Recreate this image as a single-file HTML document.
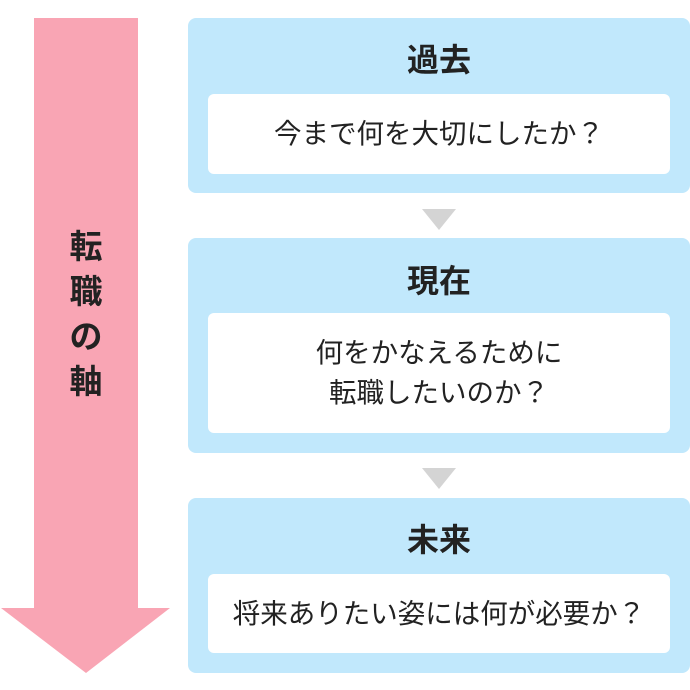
<!DOCTYPE html>
<html>
<head>
<meta charset="utf-8">
<style>
  html, body { margin:0; padding:0; background:#fff; }
  body { width:690px; height:690px; position:relative; overflow:hidden;
         font-family:"Liberation Sans","Noto Sans CJK JP",sans-serif; color:#222; }
  .box { position:absolute; left:188px; width:502px; background:#c1e8fc; border-radius:8px; }
  .title { position:absolute; left:0; width:100%; height:40px; line-height:40px; text-align:center;
           font-size:32px; font-weight:bold; color:#222; }
  .inner { position:absolute; left:20px; width:462px; background:#fff; border-radius:6px;
           display:flex; align-items:center; justify-content:center; text-align:center;
           font-size:27.5px; line-height:40px; color:#222; }
  .tri { position:absolute; left:422px; width:0; height:0;
         border-left:17px solid transparent; border-right:17px solid transparent;
         border-top:21px solid #d4d4d4; }
  .axis { position:absolute; left:34px; top:224px; width:104px; text-align:center;
          font-size:33px; font-weight:bold; line-height:45px; color:#222; }
</style>
</head>
<body>
  <svg width="690" height="690" style="position:absolute;left:0;top:0">
    <rect x="34" y="18" width="104" height="591" fill="#f9a5b4"/>
    <polygon points="1,608 170,608 86,673" fill="#f9a5b4"/>
  </svg>
  <div class="axis">転<br>職<br>の<br>軸</div>

  <div class="box" style="top:18px;height:175px;">
    <div class="title" style="top:22px;">過去</div>
    <div class="inner" style="top:76px;height:80px;">今まで何を大切にしたか？</div>
  </div>
  <div class="tri" style="top:209px;"></div>

  <div class="box" style="top:238px;height:215px;">
    <div class="title" style="top:23px;">現在</div>
    <div class="inner" style="top:75px;height:120px;">何をかなえるために<br>転職したいのか？</div>
  </div>
  <div class="tri" style="top:468px;"></div>

  <div class="box" style="top:498px;height:175px;">
    <div class="title" style="top:22px;">未来</div>
    <div class="inner" style="top:76px;height:79px;">将来ありたい姿には何が必要か？</div>
  </div>
</body>
</html>
